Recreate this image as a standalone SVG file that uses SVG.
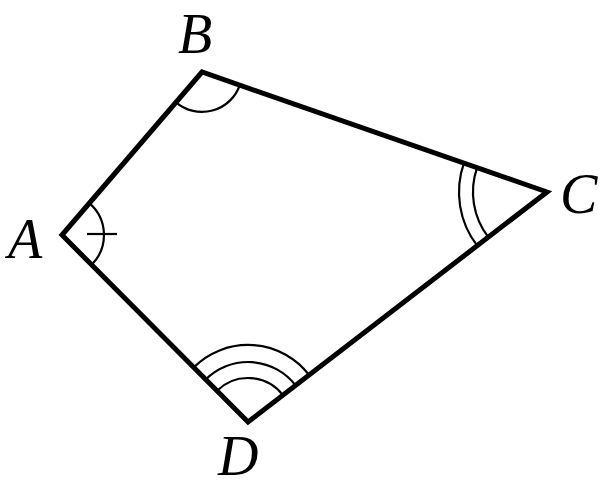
<svg xmlns="http://www.w3.org/2000/svg" width="604" height="486" viewBox="0 0 604 486">
<style>
.side{fill:none;stroke:#000;stroke-width:5;stroke-linejoin:miter}
.arc{fill:none;stroke:#000;stroke-width:2.2}
</style>
<rect width="604" height="486" fill="#fff"/>
<g id="edges">
<polygon class="side" points="62,235 202,72 547,192 248,422"/>
</g>
<g font-family="Liberation Serif, DejaVu Serif, serif" font-style="italic" font-size="56" fill="#000">
<g id="A">
<path class="arc" d="M89.3,203.2 A42,42 0 0 1 91.6,264.8"/>
<line class="arc" x1="87" y1="234" x2="117" y2="234"/>
<text x="8" y="258">A</text>
</g>
<g id="B">
<path class="arc" d="M176,102.3 A40,40 0 0 0 239.8,85.1"/>
<text x="178" y="53">B</text>
</g>
<g id="C">
<path class="arc" d="M463.9,163.1 A88,88 0 0 0 477.2,245.7"/>
<path class="arc" d="M477.1,167.7 A74,74 0 0 0 488.3,237.1"/>
<text x="560" y="213">C</text>
</g>
<g id="D">
<path class="arc" d="M193.7,367.4 A77,77 0 0 1 309.1,375"/>
<path class="arc" d="M205.7,379.5 A60,60 0 0 1 295.6,385.4"/>
<path class="arc" d="M217,390.8 A44,44 0 0 1 282.9,395.2"/>
<text x="218" y="475">D</text>
</g>
</g>
</svg>
